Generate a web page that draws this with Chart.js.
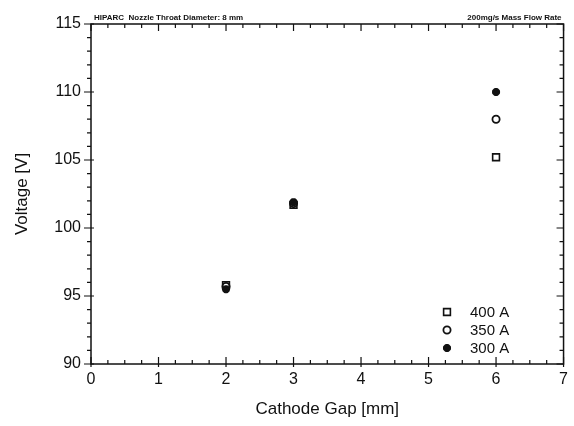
<!DOCTYPE html>
<html>
<head>
<meta charset="utf-8">
<script src="https://cdn.jsdelivr.net/npm/chart.js@4.4.0/dist/chart.umd.min.js"></script>
<style>
  html, body { margin: 0; padding: 0; background: #fff; }
  #wrap { width: 574px; height: 426px; }
</style>
</head>
<body>
<div id="wrap"><canvas id="voltChart" width="574" height="426"></canvas></div>
<script>
// Cathode gap [mm] and arc voltage [V] per current level
const gaps = [2, 3, 6];
const volt400 = [95.8, 101.7, 105.2];
const volt350 = [95.7, 101.8, 108.0];
const volt300 = [95.5, 101.9, 110.0];
const seriesLabels = ['400 A', '350 A', '300 A'];
const pointStyles = ['rect', 'circle', 'star'];

const headLeft = 'HIPARC  Nozzle Throat Diameter: 8 mm';
const headRight = '200mg/s Mass Flow Rate';

const ink = '#111';
const fontFam = 'Helvetica, "Liberation Sans", Arial, sans-serif';

function toPoints(ys) {
  return gaps.map((g, i) => ({ x: g, y: ys[i] }));
}

// frame, minor/major tick marks, header notes and the inset legend
const framePlugin = {
  id: 'frame',
  afterDraw(chart) {
    const ctx = chart.ctx;
    const a = chart.chartArea;
    const xs = chart.scales.x, ys = chart.scales.y;
    ctx.save();
    ctx.strokeStyle = ink;
    ctx.lineWidth = 1.5;
    ctx.strokeRect(a.left, a.top, a.right - a.left, a.bottom - a.top);

    ctx.lineWidth = 1.2;
    ctx.beginPath();
    for (let v = 0; v <= 7.001; v += 0.25) {
      const px = xs.getPixelForValue(v);
      const major = Math.abs(v - Math.round(v)) < 1e-6;
      const len = major ? 7 : 4;
      ctx.moveTo(px, a.bottom); ctx.lineTo(px, a.bottom - len);
      ctx.moveTo(px, a.top); ctx.lineTo(px, a.top + len);
      if (major) { ctx.moveTo(px, a.bottom); ctx.lineTo(px, a.bottom + 3); }
    }
    for (let v = 90; v <= 115; v += 1) {
      const py = ys.getPixelForValue(v);
      const major = v % 5 === 0;
      const len = major ? 7 : 4;
      ctx.moveTo(a.left - len, py); ctx.lineTo(a.left + (major ? 3 : 0), py);
      ctx.moveTo(a.right, py); ctx.lineTo(a.right - len, py);
    }
    ctx.stroke();

    // header notes above the frame
    ctx.fillStyle = ink;
    ctx.font = 'bold 8px ' + fontFam;
    ctx.textBaseline = 'bottom';
    ctx.textAlign = 'left';
    ctx.fillText(headLeft, a.left + 3, a.top - 2);
    ctx.textAlign = 'right';
    ctx.fillText(headRight, a.right - 2, a.top - 2);

    // legend inside lower right corner
    ctx.font = '15px ' + fontFam;
    ctx.textAlign = 'left';
    ctx.textBaseline = 'middle';
    chart.data.datasets.forEach((ds, i) => {
      const ly = 312 + i * 18;
      ctx.strokeStyle = ink;
      ctx.fillStyle = ds.pointBackgroundColor;
      ctx.lineWidth = ds.pointBorderWidth;
      Chart.helpers.drawPoint(ctx, { pointStyle: ds.pointStyle, radius: ds.pointRadius, borderWidth: ds.pointBorderWidth }, 447, ly);
      ctx.fillStyle = ink;
      ctx.fillText(ds.label, 470, ly + 1);
    });
    ctx.restore();
  }
};

const radii = [4.8, 3.6, 4];
const borders = [1.6, 1.8, 2.8];

const datasets = [volt400, volt350, volt300].map((vals, i) => ({
  label: seriesLabels[i],
  data: toPoints(vals),
  pointStyle: pointStyles[i],
  pointRadius: radii[i],
  pointBorderWidth: borders[i],
  pointBorderColor: ink,
  pointBackgroundColor: i === 2 ? ink : 'rgba(255,255,255,0)',
  showLine: false
}));

new Chart(document.getElementById('voltChart').getContext('2d'), {
  type: 'scatter',
  data: { datasets: datasets },
  options: {
    responsive: false,
    animation: false,
    layout: { padding: { left: 0, right: 8, top: 24, bottom: 0 } },
    plugins: {
      legend: { display: false },
      tooltip: { enabled: false }
    },
    scales: {
      x: {
        type: 'linear',
        min: 0,
        max: 7,
        grid: { display: false, drawTicks: false },
        border: { display: false },
        ticks: { stepSize: 1, color: ink, padding: 6, font: { family: fontFam, size: 16 } },
        title: { display: true, text: 'Cathode Gap [mm]', color: ink, padding: { top: 8, bottom: 6 }, font: { family: fontFam, size: 17 } },
        afterFit(scale) { scale.height = 62; }
      },
      y: {
        type: 'linear',
        min: 90,
        max: 115,
        grid: { display: false, drawTicks: false },
        border: { display: false },
        ticks: { stepSize: 5, color: ink, padding: 10, font: { family: fontFam, size: 16 } },
        title: { display: true, text: 'Voltage [V]', color: ink, padding: { top: 12, bottom: 4 }, font: { family: fontFam, size: 17 } },
        afterFit(scale) { scale.width = 91; }
      }
    }
  },
  plugins: [framePlugin]
});
</script>
</body>
</html>
